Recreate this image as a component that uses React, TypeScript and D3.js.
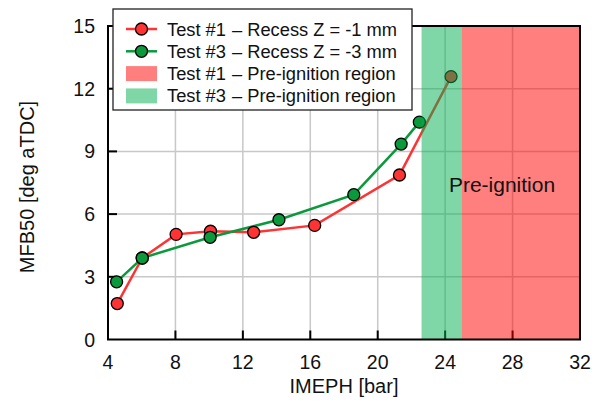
import React from 'react';
import * as d3 from 'd3';

// Test #1 - recess Z = -1 mm
const imephT1 = [4.55, 6.03, 8.04, 10.08, 12.64, 16.26, 21.29, 24.35];
const mfbT1 = [1.72, 3.9, 5.03, 5.18, 5.13, 5.46, 7.87, 12.58];
// Test #3 - recess Z = -3 mm
const imephT3 = [4.51, 6.03, 10.06, 14.14, 18.58, 21.39, 22.47];
const mfbT3 = [2.76, 3.9, 4.89, 5.73, 6.93, 9.35, 10.4];

// pre-ignition regions [start, end]
const regionT3 = [22.6, 25.0];
const regionT1 = [25.0, 32];

const xTicks = [4, 8, 12, 16, 20, 24, 28, 32];
const yTicks = [0, 3, 6, 9, 12, 15];

const legendNames = ['Test #1', 'Test #3', 'Test #1', 'Test #3'];
const legendDescs = ['– Recess Z = -1 mm', '– Recess Z = -3 mm', '– Pre-ignition region', '– Pre-ignition region'];

const RED = '#ff3333';
const GREEN = '#0a9a3c';
const RED_SHADE = '#ff0000';
const GREEN_SHADE = '#00b050';
const FONT = 'Arial, "Liberation Sans", sans-serif';

const W = 592;
const H = 401;
const m = { left: 108, right: 580, top: 26, bottom: 339.5 };

const App = () => {
  const x = d3.scaleLinear().domain([4, 32]).range([m.left, m.right]);
  const y = d3.scaleLinear().domain([0, 15]).range([m.bottom, m.top]);

  const line = d3.line<[number, number]>()
    .x(d => x(d[0]))
    .y(d => y(d[1]));

  const s1 = imephT1.map((v, i) => [v, mfbT1[i]] as [number, number]);
  const s3 = imephT3.map((v, i) => [v, mfbT3[i]] as [number, number]);

  const legendColors = [RED, GREEN, RED_SHADE, GREEN_SHADE];

  return (
    <svg width={W} height={H} style={{ position: 'absolute', left: 0, top: 0 }} fontFamily={FONT}>
      <rect x={0} y={0} width={W} height={H} fill="#fff" />

      {/* grid */}
      {xTicks.slice(1, -1).map(t => (
        <line key={'gx' + t} x1={x(t)} x2={x(t)} y1={m.top} y2={m.bottom} stroke="#c8c8c8" strokeWidth={1.5} />
      ))}
      {yTicks.slice(1, -1).map(t => (
        <line key={'gy' + t} x1={m.left} x2={m.right} y1={y(t)} y2={y(t)} stroke="#c8c8c8" strokeWidth={1.5} />
      ))}

      {/* ticks (inward) */}
      {xTicks.slice(1, -1).map(t => (
        <line key={'tx' + t} x1={x(t)} x2={x(t)} y1={m.bottom} y2={m.bottom - 9} stroke="#000" strokeWidth={2} />
      ))}
      {yTicks.slice(1, -1).map(t => (
        <line key={'ty' + t} x1={m.left} x2={m.left + 9} y1={y(t)} y2={y(t)} stroke="#000" strokeWidth={2} />
      ))}

      {/* series lines */}
      <path d={line(s1) || ''} fill="none" stroke={RED} strokeWidth={2.5} />
      <path d={line(s3) || ''} fill="none" stroke={GREEN} strokeWidth={2.5} />
      {s1.map((d, i) => (
        <circle key={'p1' + i} cx={x(d[0])} cy={y(d[1])} r={6} fill={RED} stroke="#000" strokeWidth={1.3} />
      ))}
      {s3.map((d, i) => (
        <circle key={'p3' + i} cx={x(d[0])} cy={y(d[1])} r={6} fill={GREEN} stroke="#000" strokeWidth={1.3} />
      ))}

      {/* shaded regions */}
      <rect x={x(regionT3[0])} y={m.top} width={x(regionT3[1]) - x(regionT3[0])} height={m.bottom - m.top}
        fill={GREEN_SHADE} fillOpacity={0.5} />
      <rect x={x(regionT1[0])} y={m.top} width={x(regionT1[1]) - x(regionT1[0])} height={m.bottom - m.top}
        fill={RED_SHADE} fillOpacity={0.5} />

      <text x={502} y={192} fontSize={21} textAnchor="middle" fill="#111">Pre-ignition</text>

      {/* frame */}
      <rect x={m.left} y={m.top} width={m.right - m.left} height={m.bottom - m.top} fill="none" stroke="#000" strokeWidth={2} />

      {/* tick labels */}
      {xTicks.map(t => (
        <text key={'lx' + t} x={x(t)} y={369} fontSize={19.5} textAnchor="middle" fill="#111">{t}</text>
      ))}
      {yTicks.map(t => (
        <text key={'ly' + t} x={95} y={y(t) + 7} fontSize={19.5} textAnchor="end" fill="#111">{t}</text>
      ))}

      {/* axis titles */}
      <text x={(m.left + m.right) / 2} y={393} fontSize={20} textAnchor="middle" fill="#111">IMEPH [bar]</text>
      <text transform={`translate(34, 187) rotate(-90)`} fontSize={20} textAnchor="middle" fill="#111">MFB50 [deg aTDC]</text>

      {/* legend */}
      <rect x={113} y={9} width={299} height={101} fill="#fff" stroke="#222" strokeWidth={1.3} />
      {legendNames.map((name, i) => {
        const cy = 29 + i * 22.3;
        return (
          <g key={'lg' + i}>
            {i < 2 ? (
              <g>
                <line x1={126} x2={157} y1={cy} y2={cy} stroke={legendColors[i]} strokeWidth={2.5} />
                <circle cx={141.5} cy={cy} r={6} fill={legendColors[i]} stroke="#000" strokeWidth={1.3} />
              </g>
            ) : (
              <rect x={126} y={cy - 7.5} width={31} height={15} fill={legendColors[i]} fillOpacity={0.5} />
            )}
            <text x={167} y={cy + 6.5} fontSize={18.3} fill="#111">{name}</text>
            <text x={232} y={cy + 6.5} fontSize={18.3} fill="#111">{legendDescs[i]}</text>
          </g>
        );
      })}
    </svg>
  );
};

export default App;
